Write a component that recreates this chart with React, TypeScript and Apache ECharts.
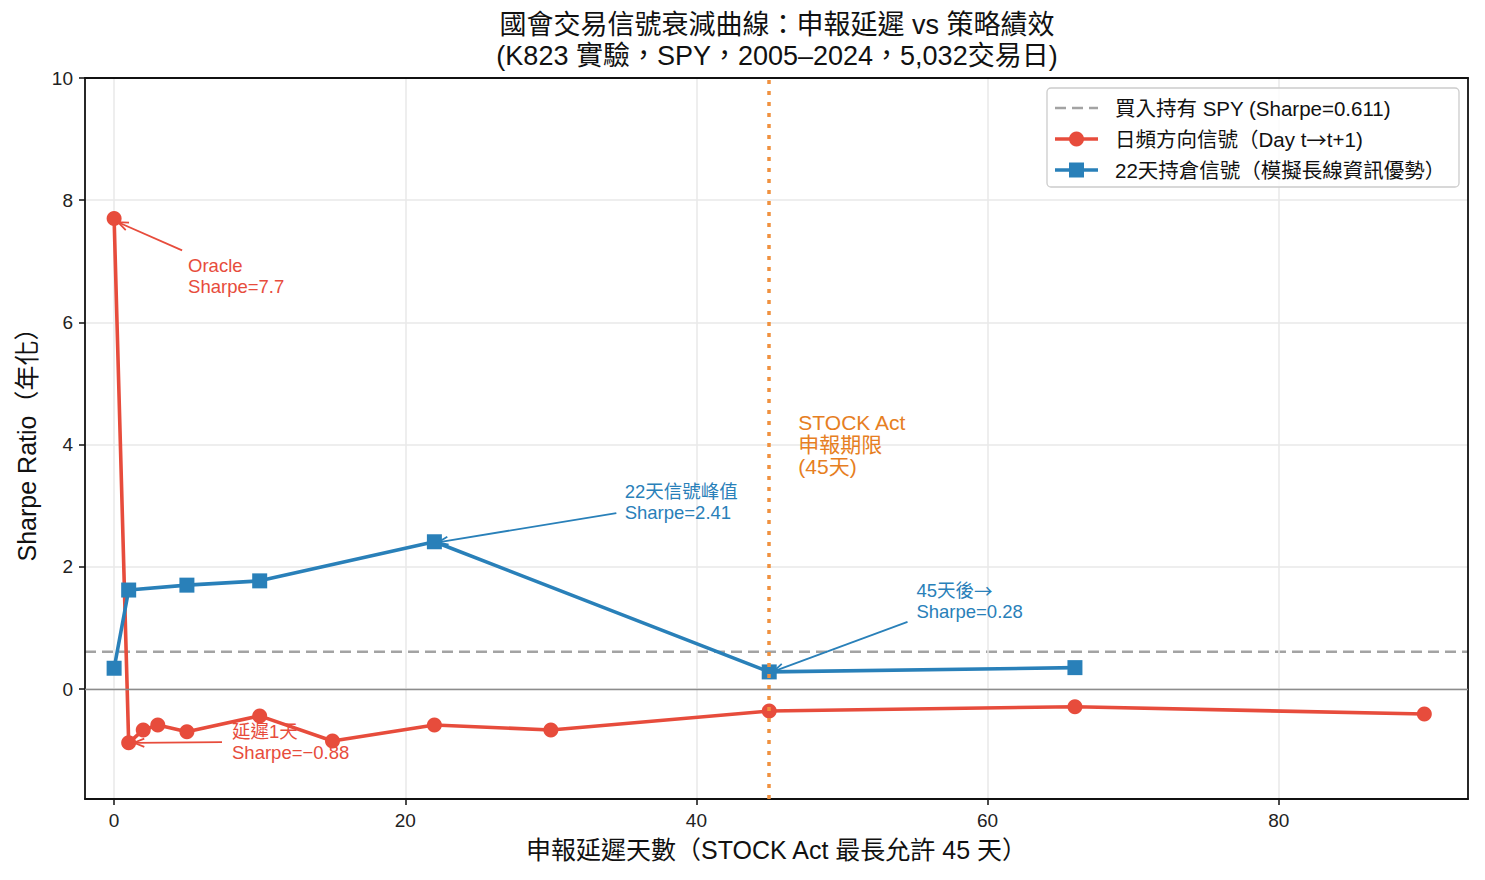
import React, { useEffect, useRef } from "react";
import * as echarts from "echarts";

// Reporting delay (days) vs. annualised Sharpe ratio
const dailyDelays = [0, 1, 2, 3, 5, 10, 15, 22, 30, 45, 66, 90];
const dailySharpe = [7.7, -0.88, -0.67, -0.59, -0.7, -0.44, -0.85, -0.59, -0.67, -0.36, -0.29, -0.41];
const holdDelays = [0, 1, 5, 10, 22, 45, 66];
const holdSharpe = [0.34, 1.62, 1.7, 1.77, 2.41, 0.28, 0.35];
const buyHoldSharpe = 0.611;
const stockActDays = 45;

const xTicks = [0, 20, 40, 60, 80];
const yTicks = [0, 2, 4, 6, 8, 10];
const X_MIN = -2;
const X_MAX = 93;
const Y_MIN = -1.8;
const Y_MAX = 10;

const SERIES_NAMES = [
  "買入持有 SPY (Sharpe=0.611)",
  "日頻方向信號（Day t{arr|→}t+1)",
  "22天持倉信號（模擬長線資訊優勢）",
];
const TITLE_LINES = [
  "國會交易信號衰減曲線：申報延遲 vs 策略績效",
  "(K823 實驗，SPY，2005–2024，5,032交易日)",
];

const RED = "#e74c3c";
const BLUE = "#2980b9";
const ORANGE = "#e67e22";
const GREY = "#a3a3a3";
const FRAME = "#111111";
const FONT = "'Liberation Sans', 'Noto Sans CJK TC', sans-serif";
const CJK = "'Noto Sans CJK TC', sans-serif";

// Text annotations: text anchored at its top-left corner (data units), optional arrow
type Note = {
  text: string;
  color: string;
  at: [number, number];
  size: number;
  lh: number;
  from?: [number, number];
  to?: [number, number];
};
const notes: Note[] = [
  { text: "Oracle\nSharpe=7.7", color: RED, at: [5.08, 7.1], size: 18.5, lh: 21, from: [4.67, 7.18], to: [0.27, 7.64] },
  { text: "延遲1天\nSharpe=−0.88", color: RED, at: [8.1, -0.52], size: 18.5, lh: 21, from: [7.41, -0.87], to: [1.37, -0.88] },
  { text: "22天信號峰值\nSharpe=2.41", color: BLUE, at: [35.07, 3.4], size: 18.5, lh: 21, from: [34.5, 2.88], to: [22.24, 2.4] },
  { text: "45天後{arr|→}\nSharpe=0.28", color: BLUE, at: [55.11, 1.79], size: 18.5, lh: 21, from: [54.5, 1.1], to: [45.3, 0.29] },
  { text: "STOCK Act\n申報期限\n(45天)", color: ORANGE, at: [47.0, 4.55], size: 21, lh: 22 },
];

// Legend box layout (pixels)
const LEG = { x: 1047, y: 88, w: 412, h: 99, rows: [108, 139, 170], lineX: 1055, lineW: 43, textX: 1115, font: 20.5 };

function buildLegend() {
  const els: any[] = [
    {
      type: "rect",
      z: 100,
      shape: { x: LEG.x, y: LEG.y, width: LEG.w, height: LEG.h, r: 4 },
      style: { fill: "rgba(255,255,255,0.8)", stroke: "#cccccc", lineWidth: 1.3 },
    },
  ];
  const colors = [GREY, RED, BLUE];
  LEG.rows.forEach((cy, i) => {
    els.push({
      type: "line",
      z: 101,
      shape: { x1: LEG.lineX, y1: cy, x2: LEG.lineX + LEG.lineW, y2: cy },
      style: {
        stroke: colors[i],
        lineWidth: i === 0 ? 2.6 : 3.6,
        lineDash: i === 0 ? [11, 6] : null,
      },
    });
    const mx = LEG.lineX + LEG.lineW / 2;
    if (i === 1) {
      els.push({ type: "circle", z: 102, shape: { cx: mx, cy, r: 7.5 }, style: { fill: RED } });
    } else if (i === 2) {
      els.push({ type: "rect", z: 102, shape: { x: mx - 7.5, y: cy - 7.5, width: 15, height: 15 }, style: { fill: BLUE } });
    }
    els.push({
      type: "text",
      z: 102,
      x: LEG.textX,
      y: cy,
      style: {
        text: SERIES_NAMES[i],
        fill: "#111",
        fontSize: LEG.font,
        fontFamily: FONT,
        align: "left",
        verticalAlign: "middle",
        rich: { arr: { fontFamily: CJK, fontSize: LEG.font, fill: "#111" } },
      },
    });
  });
  return els;
}

// Plain frame axes for the top and right edges of the plot box
const frameAxis = (extra: any) => ({
  type: "value",
  axisLine: { show: true, onZero: false, lineStyle: { color: FRAME, width: 1.8 } },
  axisTick: { show: false },
  axisLabel: { show: false },
  splitLine: { show: false },
  ...extra,
});

export default function App() {
  const ref = useRef<HTMLDivElement>(null);

  useEffect(() => {
    if (!ref.current) return;
    const chart = echarts.init(ref.current, null, { renderer: "svg" });

    const renderNote = (params: any, api: any) => {
      const n = notes[params.dataIndex];
      const p = api.coord(n.at);
      const children: any[] = [
        {
          type: "text",
          x: p[0],
          y: p[1],
          style: {
            text: n.text,
            fill: n.color,
            fontSize: n.size,
            fontFamily: FONT,
            lineHeight: n.lh,
            align: "left",
            verticalAlign: "top",
            rich: { arr: { fontFamily: CJK, fontSize: n.size, fill: n.color, lineHeight: n.lh } },
          },
        },
      ];
      if (n.from && n.to) {
        const a = api.coord(n.from);
        const b = api.coord(n.to);
        const ang = Math.atan2(a[1] - b[1], a[0] - b[0]);
        const len = 11;
        const spread = 0.38;
        children.push({
          type: "line",
          shape: { x1: a[0], y1: a[1], x2: b[0], y2: b[1] },
          style: { stroke: n.color, lineWidth: 1.8 },
        });
        children.push({
          type: "polyline",
          shape: {
            points: [
              [b[0] + len * Math.cos(ang + spread), b[1] + len * Math.sin(ang + spread)],
              [b[0], b[1]],
              [b[0] + len * Math.cos(ang - spread), b[1] + len * Math.sin(ang - spread)],
            ],
          },
          style: { stroke: n.color, lineWidth: 1.8, fill: "none" },
        });
      }
      return { type: "group", children };
    };

    const option: any = {
      animation: false,
      backgroundColor: "#ffffff",
      textStyle: { fontFamily: FONT },
      graphic: [
        ...TITLE_LINES.map((t, i) => ({
          type: "text",
          x: 777,
          y: 25 + i * 31,
          style: {
            text: t,
            fill: "#111",
            fontSize: 27,
            fontFamily: FONT,
            align: "center",
            verticalAlign: "middle",
          },
        })),
        ...buildLegend(),
      ],
      grid: {
        left: 85,
        right: 17,
        top: 78,
        bottom: 81,
        show: false,
      },
      xAxis: [
        {
          type: "value",
          min: X_MIN,
          max: X_MAX,
          name: "申報延遲天數（STOCK Act 最長允許 45 天）",
          nameLocation: "middle",
          nameGap: 38,
          nameTextStyle: { fontSize: 25, color: "#111", fontFamily: FONT },
          axisLine: { show: true, onZero: false, lineStyle: { color: FRAME, width: 1.8 } },
          axisTick: { show: true, length: 6, lineStyle: { color: FRAME, width: 1.5 }, customValues: xTicks },
          axisLabel: { fontSize: 19, color: "#222", margin: 12, fontFamily: FONT, customValues: xTicks },
          splitLine: { show: true, lineStyle: { color: "#e8e8e8", width: 1.5 } },
          z: 3,
        },
        frameAxis({ position: "top", min: X_MIN, max: X_MAX, z: 3 }),
      ],
      yAxis: [
        {
          type: "value",
          min: Y_MIN,
          max: Y_MAX,
          name: "Sharpe Ratio（年化）",
          nameLocation: "middle",
          nameGap: 46,
          nameTextStyle: { fontSize: 25, color: "#111", fontFamily: FONT },
          axisLine: { show: true, onZero: false, lineStyle: { color: FRAME, width: 1.8 } },
          axisTick: { show: true, length: 6, lineStyle: { color: FRAME, width: 1.5 }, customValues: yTicks },
          axisLabel: { fontSize: 19, color: "#222", margin: 12, fontFamily: FONT, customValues: yTicks },
          splitLine: { show: true, lineStyle: { color: "#e8e8e8", width: 1.5 } },
          z: 3,
        },
        frameAxis({ position: "right", min: Y_MIN, max: Y_MAX, z: 3 }),
      ],
      series: [
        {
          name: "zero",
          type: "line",
          data: [],
          silent: true,
          z: 1,
          markLine: {
            silent: true,
            symbol: "none",
            label: { show: false },
            lineStyle: { color: "#8c8c8c", width: 1.3, type: "solid" },
            data: [{ yAxis: 0 }],
          },
        },
        {
          name: "buyHold",
          type: "line",
          data: [
            [X_MIN, buyHoldSharpe],
            [X_MAX, buyHoldSharpe],
          ],
          showSymbol: false,
          symbol: "none",
          z: 2,
          lineStyle: { color: GREY, width: 2.6, type: [11, 6] },
          itemStyle: { color: GREY },
        },
        {
          name: "daily",
          type: "line",
          data: dailyDelays.map((d, i) => [d, dailySharpe[i]]),
          symbol: "circle",
          symbolSize: 15,
          z: 3,
          lineStyle: { color: RED, width: 3.6 },
          itemStyle: { color: RED },
        },
        {
          name: "hold22",
          type: "line",
          data: holdDelays.map((d, i) => [d, holdSharpe[i]]),
          symbol: "rect",
          symbolSize: 15,
          z: 4,
          lineStyle: { color: BLUE, width: 3.6 },
          itemStyle: { color: BLUE },
        },
        {
          name: "stockAct",
          type: "line",
          data: [],
          silent: true,
          z: 5,
          markLine: {
            silent: true,
            symbol: "none",
            label: { show: false },
            lineStyle: { color: "#f0913f", width: 3.5, type: [4, 7] },
            data: [{ xAxis: stockActDays }],
          },
        },
        {
          name: "notes",
          type: "custom",
          data: notes.map((n) => n.at),
          renderItem: renderNote,
          silent: true,
          z: 6,
        },
      ],
    };

    chart.setOption(option);
    return () => chart.dispose();
  }, []);

  return (
    <div
      ref={ref}
      style={{ position: "fixed", left: 0, top: 0, width: 1485, height: 880, background: "#fff" }}
    />
  );
}
